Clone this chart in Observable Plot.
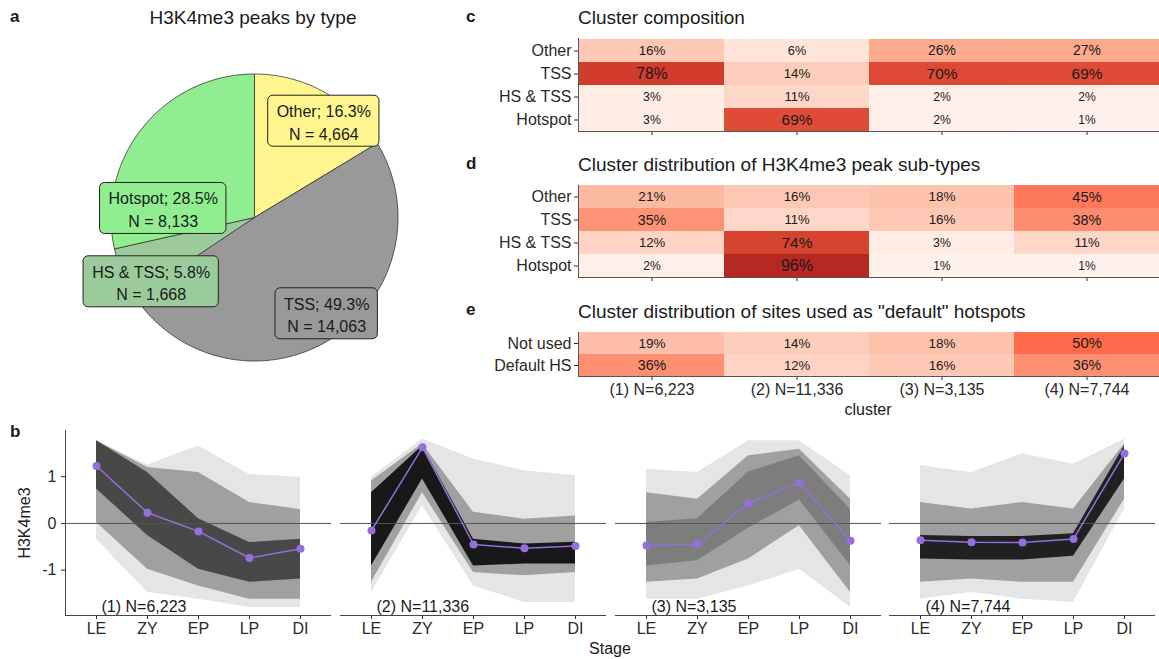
<!DOCTYPE html>
<html><head><meta charset="utf-8">
<script src="https://cdn.jsdelivr.net/npm/d3@7"></script>
<script src="https://cdn.jsdelivr.net/npm/@observablehq/plot@0.6"></script>
<style>
body{margin:0;background:#fff;}
#fig{position:relative;width:1159px;height:659px;font-family:"Liberation Sans",Arial,Helvetica,sans-serif;color:#1a1a1a;overflow:hidden;background:#fff}
.abs{position:absolute;line-height:1;white-space:nowrap}
.lt{font-weight:bold;font-size:17px}
.title{font-size:19px}
.axt{font-size:16px;color:#1a1a1a}
</style></head><body><div id="fig"></div>
<script>
// ---------------- data ----------------
const pieTypes = ["Other", "TSS", "HS & TSS", "Hotspot"];
const pieCounts = [4664, 14063, 1668, 8133];

const clusters = ["(1) N=6,223", "(2) N=11,336", "(3) N=3,135", "(4) N=7,744"];
const typeRows = ["Other", "TSS", "HS & TSS", "Hotspot"];
const compValues = [ // cluster composition (%), rows x clusters
  [16, 6, 26, 27],
  [78, 14, 70, 69],
  [3, 11, 2, 2],
  [3, 69, 2, 1]
];
const distValues = [ // cluster distribution of sub-types (%)
  [21, 16, 18, 45],
  [35, 11, 16, 38],
  [12, 74, 3, 11],
  [2, 96, 1, 1]
];
const defaultRows = ["Not used", "Default HS"];
const defaultValues = [
  [19, 14, 18, 50],
  [36, 12, 16, 36]
];

const stages = ["LE", "ZY", "EP", "LP", "DI"];
const meanValues = [
  [1.23, 0.23, -0.17, -0.74, -0.54],
  [-0.15, 1.63, -0.45, -0.53, -0.48],
  [-0.47, -0.44, 0.43, 0.87, -0.37],
  [-0.36, -0.40, -0.41, -0.33, 1.50]
];
// envelopes of the individual peak profiles
const rangeHigh = [
  [1.77, 1.25, 1.66, 1.05, 0.99],
  [0.99, 1.81, 1.38, 1.13, 1.02],
  [1.16, 1.09, 1.77, 1.77, 1.02],
  [1.24, 1.09, 1.49, 1.27, 1.81]
];
const rangeLow = [
  [-0.34, -1.48, -1.62, -1.80, -1.80],
  [-1.48, 0.38, -1.34, -1.69, -1.69],
  [-1.62, -1.62, -1.34, -0.98, -1.80],
  [-1.62, -1.48, -1.62, -1.69, 0.31]
];
const midHigh = [
  [1.77, 1.20, 1.09, 0.45, 0.30],
  [0.91, 1.70, 0.24, 0.09, 0.16],
  [0.66, 0.52, 1.45, 1.59, 0.52],
  [0.45, 0.31, 0.45, 0.31, 1.70]
];
const midLow = [
  [0.02, -0.98, -1.34, -1.62, -1.62],
  [-1.26, 0.66, -1.05, -1.12, -1.05],
  [-1.26, -1.19, -0.76, -0.05, -1.48],
  [-1.26, -1.19, -1.26, -1.26, 0.52]
];
const coreHigh = [
  [1.77, 1.09, 0.10, -0.41, -0.34],
  [0.66, 1.66, -0.34, -0.44, -0.40],
  [0.02, 0.10, 1.10, 1.45, 0.30],
  [-0.26, -0.28, -0.28, -0.22, 1.66]
];
const coreLow = [
  [0.74, -0.26, -0.98, -1.26, -1.19],
  [-0.91, 0.95, -0.91, -0.87, -0.87],
  [-0.91, -0.80, -0.10, 0.50, -0.90],
  [-0.76, -0.78, -0.78, -0.70, 0.95]
];

// ---------------- styles / layout ----------------
const FONT = '"Liberation Sans", Arial, Helvetica, sans-serif';
const pieColors = ["#FFF68F", "#999999", "#9BCB9B", "#90EE90"];
const heatColors = ["#fff5f0", "#fcae92", "#fe6a4c", "#d4412f", "#b22320"];
const coreOpacity = [0.55, 0.85, 0.22, 0.8];
const pieLabelAnchor = [[0.483, 0.671], [0.503, -0.671], [-0.72, -0.448], [-0.636, 0.063]];

const fig = document.getElementById("fig");
function place(node, left, top) {
  node.style.position = "absolute"; node.style.left = left + "px"; node.style.top = top + "px";
  fig.appendChild(node);
}
function label(text, cls, left, top, extra) {
  const d = document.createElement("div");
  d.className = "abs " + cls; d.textContent = text;
  d.style.left = left + "px"; d.style.top = top + "px";
  if (extra) Object.assign(d.style, extra);
  fig.appendChild(d);
}

// ---------------- pie (a) ----------------
const R = 143.5, PW = 360, PH = 340;
const total = d3.sum(pieCounts);
const arcs = d3.pie().sort(null).value(d => d)(pieCounts);
const piePts = [];
arcs.forEach((a, i) => {
  const t = pieTypes[i];
  piePts.push({type: t, x: 0, y: 0});
  const n = Math.max(2, Math.ceil((a.endAngle - a.startAngle) / (Math.PI / 180)));
  for (let k = 0; k <= n; k++) {
    const ang = a.startAngle + (a.endAngle - a.startAngle) * k / n;
    piePts.push({type: t, x: Math.sin(ang), y: Math.cos(ang)});
  }
  piePts.push({type: t, x: 0, y: 0});
});
const ctx = document.createElement("canvas").getContext("2d");
ctx.font = '16px "Liberation Sans", Arial, sans-serif';
const fmt = d3.format(",");
const pieLabels = pieTypes.map((t, i) => {
  const l1 = `${t}; ${(pieCounts[i] / total * 100).toFixed(1)}%`;
  const l2 = `N = ${fmt(pieCounts[i])}`;
  const w = (Math.max(ctx.measureText(l1).width, ctx.measureText(l2).width) + 17) / R;
  const h = 51 / R;
  const [x, y] = pieLabelAnchor[i];
  return {type: t, text: l1 + "\n" + l2, x, y, x1: x - w / 2, x2: x + w / 2, y1: y - h / 2, y2: y + h / 2};
});
const pie = Plot.plot({
  width: PW, height: PH, margin: 0,
  x: {domain: [-PW / 2 / R, PW / 2 / R], axis: null},
  y: {domain: [-PH / 2 / R, PH / 2 / R], axis: null},
  color: {domain: pieTypes, range: pieColors},
  style: {fontFamily: FONT, background: "transparent"},
  marks: [
    Plot.line(piePts, {x: "x", y: "y", z: "type", fill: "type", stroke: "#333", strokeWidth: 0.8, curve: "linear"}),
    Plot.rect(pieLabels, {x1: "x1", x2: "x2", y1: "y1", y2: "y2", fill: "type", stroke: "#222", strokeWidth: 1, rx: 5}),
    Plot.text(pieLabels, {x: "x", y: "y", text: "text", fontSize: 16, lineHeight: 1.42, fill: "#1a1a1a"})
  ]
});
place(pie, 254 - PW / 2, 217 - PH / 2);

// ---------------- heatmaps (c, d, e) ----------------
function heat(rows, vals, areaH, showX) {
  const data = [];
  rows.forEach((r, i) => clusters.forEach((c, j) => data.push({row: r, cluster: c, v: vals[i][j]})));
  const mb = showX ? 30 : 8;
  return Plot.plot({
    width: 691, height: 10 + areaH + mb, marginLeft: 110, marginRight: 0, marginTop: 10, marginBottom: mb,
    x: {domain: clusters, padding: 0, label: null, tickSize: 4, tickPadding: 3, tickFormat: showX ? (d => d) : (() => "")},
    y: {domain: rows, padding: 0, label: null, tickSize: 4, tickPadding: 3},
    color: {type: "linear", domain: [0, 25, 50, 75, 100], range: heatColors},
    style: {fontFamily: FONT, fontSize: "16px", color: "#2a2a2a", background: "transparent"},
    marks: [
      Plot.cell(data, {x: "cluster", y: "row", fill: "v"}),
      Plot.text(data, {x: "cluster", y: "row", text: d => d.v + "%", fontSize: d => 11.5 + 4.6 * Math.sqrt(d.v / 96), fill: "#1a1a1a"}),
      Plot.frame({anchor: "left", stroke: "#555"}),
      Plot.frame({anchor: "bottom", stroke: "#555"})
    ]
  });
}
place(heat(typeRows, compValues, 93, false), 468, 28);
place(heat(typeRows, distValues, 92, false), 468, 175);
place(heat(defaultRows, defaultValues, 44, true), 468, 322);

// ---------------- profiles (b) ----------------
function panel(k) {
  const first = k === 0;
  const mean = stages.map((s, i) => ({s, v: meanValues[k][i]}));
  const band = stages.map((s, i) => ({
    s, oh: rangeHigh[k][i], ol: rangeLow[k][i], mh: midHigh[k][i], ml: midLow[k][i], ch: coreHigh[k][i], cl: coreLow[k][i]
  }));
  return Plot.plot({
    width: (first ? 65 : 0) + 266, height: 10 + 185 + 34,
    marginLeft: first ? 65 : 0, marginRight: 0, marginTop: 10, marginBottom: 34,
    x: {domain: stages, type: "point", padding: 0.6, label: null, tickSize: 4, tickPadding: 3},
    y: {domain: [-1.97, 1.99], ticks: [-1, 0, 1], tickFormat: d => String(d), label: null, axis: first ? "left" : null, tickSize: 4, tickPadding: 5},
    style: {fontFamily: FONT, fontSize: "16px", color: "#2a2a2a", background: "transparent"},
    marks: [
      Plot.areaY(band, {x: "s", y1: "ol", y2: "oh", fill: "#000", fillOpacity: 0.1}),
      Plot.areaY(band, {x: "s", y1: "ml", y2: "mh", fill: "#000", fillOpacity: 0.3}),
      Plot.areaY(band, {x: "s", y1: "cl", y2: "ch", fill: "#000", fillOpacity: coreOpacity[k]}),
      Plot.ruleY([0], {stroke: "#555", strokeWidth: 1}),
      Plot.line(mean, {x: "s", y: "v", stroke: "#9370DB", strokeWidth: 1.5}),
      Plot.dot(mean, {x: "s", y: "v", r: 4, fill: "#9370DB"}),
      Plot.text([clusters[k]], {x: () => stages[0], y: () => -1.78, text: d => d, textAnchor: "start", dx: 5, fontSize: 16, fill: "#1a1a1a"}),
      Plot.frame({anchor: "bottom", stroke: "#444"}),
      first ? Plot.frame({anchor: "left", stroke: "#444"}) : null
    ]
  });
}
[0, 340, 615, 889].forEach((left, k) => place(panel(k), left, 420));

// ---------------- text ----------------
label("a", "lt", 10, 8);
label("H3K4me3 peaks by type", "title", 253, 8, {transform: "translateX(-50%)"});
label("c", "lt", 466, 8);
label("Cluster composition", "title", 578, 8);
label("d", "lt", 466, 155);
label("Cluster distribution of H3K4me3 peak sub-types", "title", 578, 155);
label("e", "lt", 466, 301);
label("Cluster distribution of sites used as \"default\" hotspots", "title", 578, 302);
label("cluster", "axt", 868, 402, {transform: "translateX(-50%)"});
label("b", "lt", 10, 423);
label("H3K4me3", "axt", 25, 523, {transform: "translate(-50%,-50%) rotate(-90deg)"});
label("Stage", "axt", 610, 641, {transform: "translateX(-50%)"});
</script></body></html>
